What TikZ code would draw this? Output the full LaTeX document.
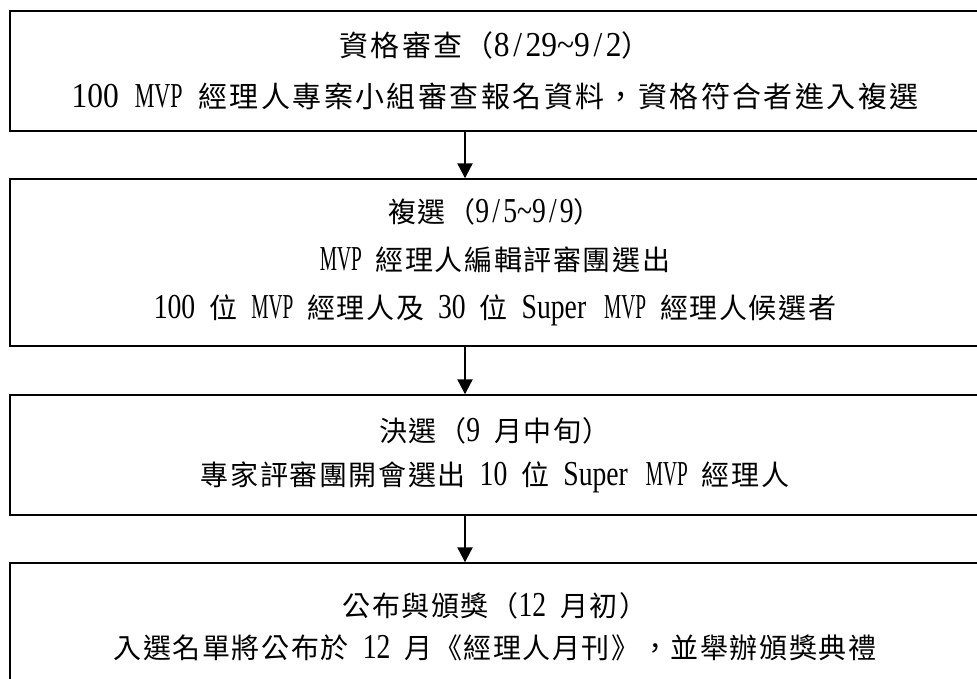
\documentclass[tikz,border=0pt]{standalone}
\usepackage{fontspec}
\usepackage{graphicx}
\usetikzlibrary{arrows.meta}
\setmainfont{Noto Sans CJK TC}[LetterSpace=5.7]
\newfontfamily\cjkb{Noto Sans CJK TC}[LetterSpace=8.3]
\newfontfamily\latA{Liberation Serif}[FakeStretch=0.9]
\newfontfamily\latB{Liberation Serif}[FakeStretch=0.79]
\newcommand{\la}[1]{{\latB\fontsize{35}{45}\selectfont #1}}
\newcommand{\lb}[1]{{\latA\fontsize{35}{45}\selectfont #1}}
\newcommand{\slA}{\makebox[16pt]{/}}
\newcommand{\slB}{\makebox[14pt]{/}}
\newcommand{\sA}{\hspace{16pt}}
\newcommand{\sB}{\hspace{14pt}}
\newcommand{\mvp}{\scalebox{0.7}[1]{MVP}}
\begin{document}
\begin{tikzpicture}[x=1pt,y=-1pt,
  box/.style={draw,line width=1.4pt,rectangle,inner sep=0pt,align=center,
    minimum width=970pt,font=\fontsize{28}{45}\selectfont},
  arr/.style={line width=2.2pt,-{Triangle[length=15pt,width=15pt]}}]
\useasboundingbox (0,0) rectangle (977,679);
\clip (0,0) rectangle (977,679);
\node[box,minimum height=120pt,font=\cjkb\fontsize{29}{45}\selectfont] (b1) at (495,71)
  {資格審查（\lb{8\slA 29\textasciitilde 9\slA 2}）\\[6pt]
   \lb{100\sA\mvp\sA}經理人專案小組審查報名資料，資格符合者進入複選};
\node[box,minimum height=167pt] (b2) at (495,262.5)
  {複選（\la{9\slB 5\textasciitilde 9\slB 9}）\\[3pt]
   \la{\mvp\sB}經理人編輯評審團選出\\[3pt]
   \la{100\sB}位\la{\sB\mvp\sB}經理人及\la{\sB 30\sB}位\la{\sB Super\hspace{18pt}\mvp\sB}經理人候選者};
\node[box,minimum height=120pt] (b3) at (495,455)
  {決選（\la{9\sB}月中旬）\\[-1pt]
   專家評審團開會選出\la{\sB 10\sB}位\la{\sB Super\hspace{18pt}\mvp\sB}經理人};
\node[box,minimum height=128pt] (b4) at (495,627)
  {公布與頒獎（\la{12\sB}月初）\\[-3pt]
   入選名單將公布於\la{\sB 12\sB}月《經理人月刊》，並舉辦頒獎典禮};
\coordinate (ax) at (465,0);
\draw[arr] (b1.south -| ax) -- (b2.north -| ax);
\draw[arr] (b2.south -| ax) -- (b3.north -| ax);
\draw[arr] (b3.south -| ax) -- (b4.north -| ax);
\end{tikzpicture}
\end{document}
